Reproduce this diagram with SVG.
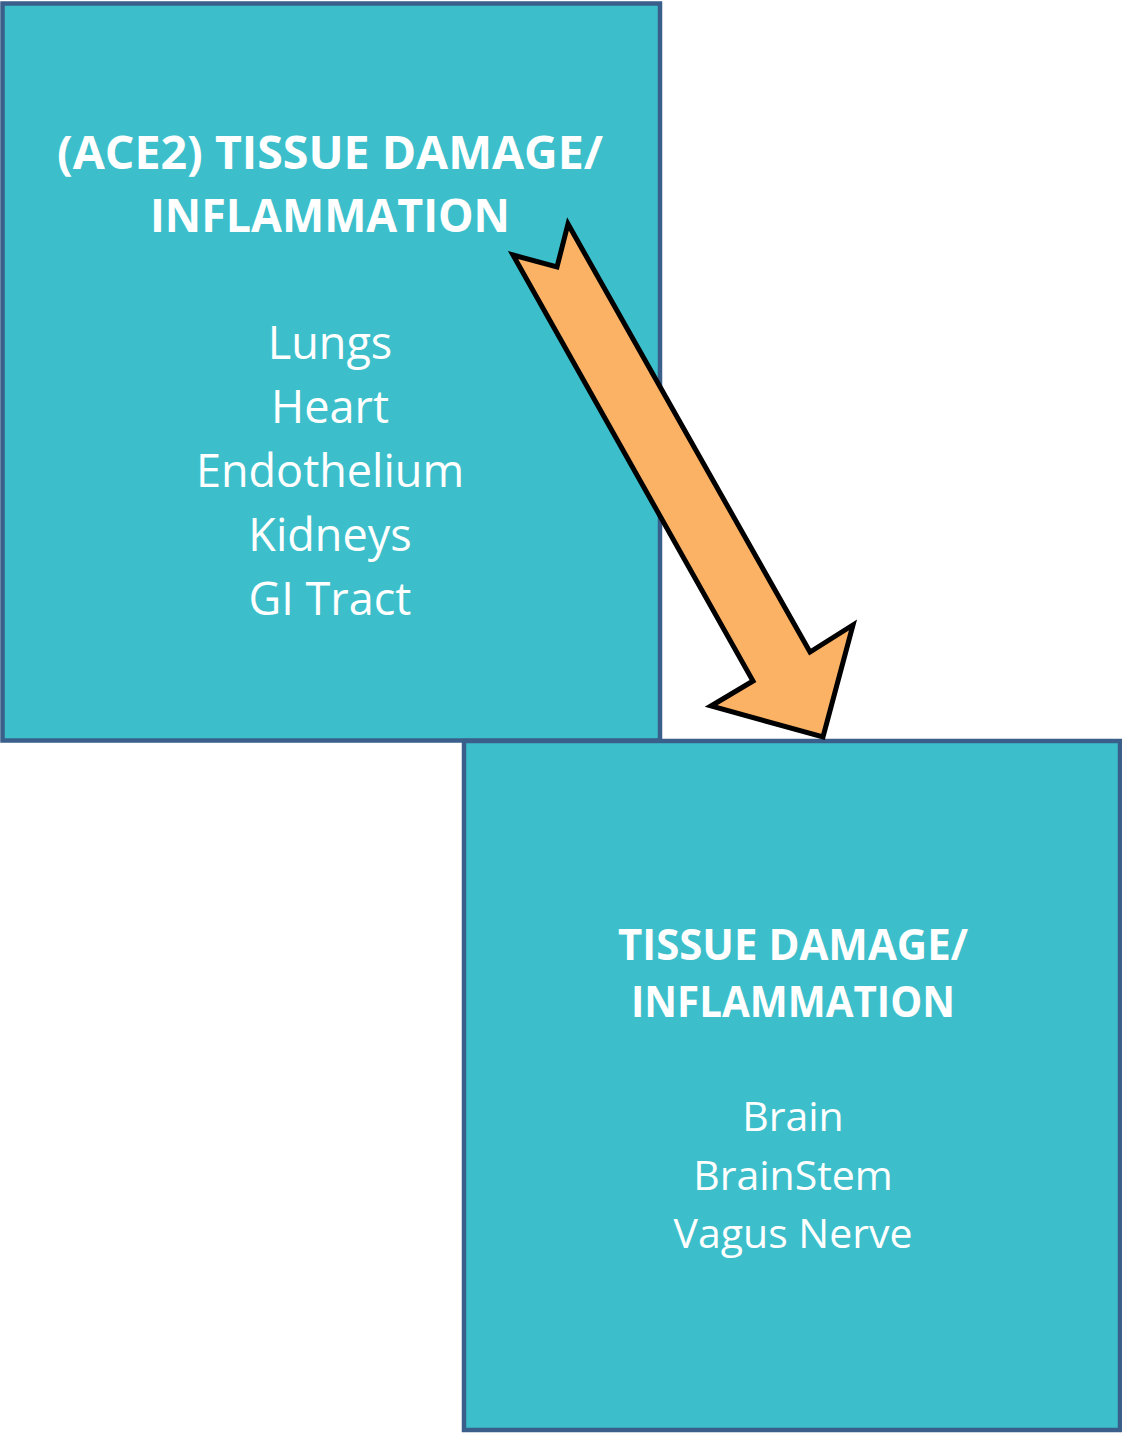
<svg xmlns="http://www.w3.org/2000/svg" width="1122" height="1434" viewBox="0 0 1122 1434">
<style>
.box{fill:#3CBFCB;stroke:#3A5F8B;stroke-width:4.5}
.h{font-family:"Open Sans","Liberation Sans",sans-serif;font-weight:bold;fill:#fff;text-anchor:middle}
.t{font-family:"Open Sans","Liberation Sans",sans-serif;fill:#fff;text-anchor:middle}
.arrow{fill:#FBB264;stroke:#000;stroke-width:5;stroke-linejoin:miter}
</style>
<rect width="1122" height="1434" fill="#fff"/>
<g id="node-upper">
<rect class="box" x="2.5" y="3.5" width="657.5" height="737"/>
<text class="h" font-size="47" x="330" y="169" textLength="546" lengthAdjust="spacingAndGlyphs">(ACE2) TISSUE DAMAGE/</text>
<text class="h" font-size="47" x="330" y="232" textLength="360" lengthAdjust="spacingAndGlyphs">INFLAMMATION</text>
<text class="t" font-size="45" x="330" y="359">Lungs</text>
<text class="t" font-size="45" x="330" y="423">Heart</text>
<text class="t" font-size="45" x="330" y="487">Endothelium</text>
<text class="t" font-size="45" x="330" y="551">Kidneys</text>
<text class="t" font-size="45" x="330" y="615">GI Tract</text>
</g>
<g id="node-lower">
<rect class="box" x="464" y="741" width="656" height="689"/>
<text class="h" font-size="43" x="793" y="960" textLength="350" lengthAdjust="spacingAndGlyphs">TISSUE DAMAGE/</text>
<text class="h" font-size="43" x="793" y="1017" textLength="324" lengthAdjust="spacingAndGlyphs">INFLAMMATION</text>
<text class="t" font-size="41" x="793" y="1131">Brain</text>
<text class="t" font-size="41" x="793" y="1190">BrainStem</text>
<text class="t" font-size="41" x="793" y="1248">Vagus Nerve</text>
</g>
<g id="connectors">
<polygon class="arrow" points="513,255 557,267 568,224 810,652 853,625 823,737 711,706 753,681"/>
</g>
</svg>
